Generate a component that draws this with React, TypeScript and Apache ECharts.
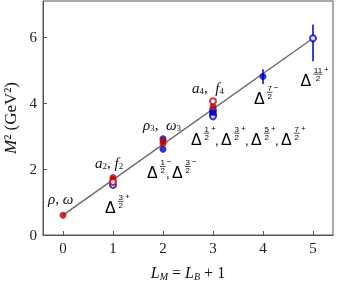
import React, { useEffect, useRef } from "react";
import * as echarts from "echarts";

const xTicks = [0, 1, 2, 3, 4, 5];
const yTicks = [0, 2, 4, 6];
const redFilled = [[0, 0.6], [1, 1.74], [1, 1.68], [2, 2.85], [2, 2.77], [3, 3.9]];
const redOpen = [[1, 1.61], [3, 4.06]];
const blueFilled = [[2, 2.92], [2, 2.6], [3, 3.72], [4, 4.81]];
const blueOpen = [[1, 1.52], [3, 3.79], [3, 3.66], [3, 3.6], [5, 5.97]];
const fitLine = [[0, 0.6], [5, 5.97]];
const errorBars = [[4, 4.58, 5.03], [5, 5.27, 6.39]];

const mesonLabels = [
  { at: [-0.3, 1.09], text: "{i|ρ}{n|, }{i|ω}" },
  { at: [0.64, 2.19], text: "{i|a}{s|2}{n|, }{i|f}{s|2}" },
  { at: [1.6, 3.34], text: "{i|ρ}{s|3}{n|,  }{i|ω}{s|3}" },
  { at: [2.58, 4.47], text: "{i|a}{s|4}{n|,  }{i|f}{s|4}" },
];

const deltaLabels = [
  { at: [0.84, 0.7], parts: [["3", "+"]], step: 31 },
  { at: [1.68, 1.76], parts: [["1", "−"], ["3", "−"]], step: 25 },
  { at: [2.56, 2.77], parts: [["1", "+"], ["3", "+"], ["5", "+"], ["7", "+"]], step: 30 },
  { at: [3.82, 4.01], parts: [["7", "−"]], step: 31 },
  { at: [4.75, 4.56], parts: [["11", "+"]], step: 31 },
];

const RED = "#c00000";
const BLUE = "#0000c8";
const SERIF = "Liberation Serif";
const SANS = "Liberation Sans";

function deltaGroup(px: number, py: number, num: string, sign: string) {
  const fw = num.length > 1 ? 8 : 4.5;
  const fx = 13.5;
  return {
    type: "group",
    x: px,
    y: py,
    children: [
      { type: "text", x: 0, y: 3.5, style: { text: "Δ", fontFamily: SANS, fontSize: 16, fill: "#000", align: "left", verticalAlign: "bottom" } },
      { type: "text", x: fx + fw / 2, y: -10.5, style: { text: num, fontFamily: SANS, fontSize: 8, fill: "#000", align: "center", verticalAlign: "bottom" } },
      { type: "line", shape: { x1: fx - 0.5, y1: -10.5, x2: fx + fw + 0.5, y2: -10.5 }, style: { stroke: "#000", lineWidth: 0.7 } },
      { type: "text", x: fx + fw / 2, y: -10, style: { text: "2", fontFamily: SANS, fontSize: 8, fill: "#000", align: "center", verticalAlign: "top" } },
      { type: "text", x: fx + fw + 2, y: -11, style: { text: sign, fontFamily: SANS, fontSize: 8, fill: "#000", align: "left", verticalAlign: "bottom" } },
    ],
  };
}

export default function App() {
  const ref = useRef<HTMLDivElement>(null);
  useEffect(() => {
    if (!ref.current) return;
    const chart = echarts.init(ref.current, null, { renderer: "svg" });
    const axisText = { fontFamily: SERIF, fontSize: 15, color: "#222" };
    chart.setOption({
      animation: false,
      grid: { left: 43, right: 5, top: 1, bottom: 49, show: true, borderColor: "#555", borderWidth: 1, outerBoundsMode: "none", containLabel: false },
      xAxis: {
        type: "value",
        min: -0.4,
        max: 5.4,
        name: "{i|L}{s|M}{n| = }{i|L}{s|B}{n| + 1}",
        nameLocation: "middle",
        nameGap: 28,
        nameTextStyle: {
          rich: {
            i: { fontFamily: SERIF, fontStyle: "italic", fontSize: 16, color: "#111", lineHeight: 18, verticalAlign: "middle" },
            s: { fontFamily: SERIF, fontStyle: "italic", fontSize: 10, color: "#111", verticalAlign: "bottom" },
            n: { fontFamily: SERIF, fontSize: 16, color: "#111", lineHeight: 18, verticalAlign: "middle" },
          },
        },
        axisLine: { show: true, onZero: false, lineStyle: { color: "#555" } },
        axisTick: { show: true, inside: true, length: 4, customValues: xTicks, lineStyle: { color: "#555" } },
        axisLabel: { ...axisText, margin: 5, customValues: xTicks },
        splitLine: { show: false },
      },
      yAxis: {
        type: "value",
        min: 0,
        max: 7.1,
        name: "{i|M}{n|² (GeV²)}",
        nameLocation: "middle",
        nameRotate: 90,
        nameGap: 23,
        nameTextStyle: {
          rich: {
            i: { fontFamily: SERIF, fontStyle: "italic", fontSize: 17, color: "#111" },
            n: { fontFamily: SERIF, fontSize: 17, color: "#111" },
          },
        },
        axisLine: { show: true, onZero: false, lineStyle: { color: "#555" } },
        axisTick: { show: true, inside: true, length: 4, customValues: yTicks, lineStyle: { color: "#555" } },
        axisLabel: { ...axisText, margin: 6, customValues: yTicks },
        splitLine: { show: false },
      },
      series: [
        {
          type: "line",
          data: fitLine,
          showSymbol: false,
          silent: true,
          lineStyle: { color: "#6a6a6a", width: 1.5 },
          z: 1,
        },
        {
          type: "custom",
          data: errorBars,
          encode: { x: 0, y: [1, 2] },
          z: 2,
          renderItem: (params: any, api: any) => {
            const lo = api.coord([api.value(0), api.value(1)]);
            const hi = api.coord([api.value(0), api.value(2)]);
            return {
              type: "line",
              shape: { x1: lo[0], y1: lo[1], x2: hi[0], y2: hi[1] },
              style: { stroke: BLUE, lineWidth: 1.5 },
            };
          },
        },
        { type: "scatter", data: blueOpen, symbol: "emptyCircle", symbolSize: 6, itemStyle: { color: BLUE, borderWidth: 1.5 }, z: 3 },
        { type: "scatter", data: blueFilled, symbol: "circle", symbolSize: 7, itemStyle: { color: BLUE }, z: 3 },
        { type: "scatter", data: redFilled, symbol: "circle", symbolSize: 7, itemStyle: { color: RED }, z: 3 },
        { type: "scatter", data: redOpen, symbol: "emptyCircle", symbolSize: 6, itemStyle: { color: RED, borderWidth: 1.5 }, z: 3 },
      ],
    });

    const graphics: any[] = [];
    const richMeson = {
      i: { fontFamily: SERIF, fontStyle: "italic", fontSize: 15, fill: "#111", lineHeight: 16, verticalAlign: "middle" },
      s: { fontFamily: SERIF, fontSize: 9, fill: "#111", verticalAlign: "bottom" },
      n: { fontFamily: SERIF, fontSize: 15, fill: "#111", lineHeight: 16, verticalAlign: "middle" },
    };
    mesonLabels.forEach((m) => {
      const p = chart.convertToPixel({ gridIndex: 0 }, m.at) as number[];
      graphics.push({
        type: "text",
        x: p[0],
        y: p[1],
        style: { text: m.text, rich: richMeson, align: "left", verticalAlign: "middle" },
      });
    });
    deltaLabels.forEach((d) => {
      const p = chart.convertToPixel({ gridIndex: 0 }, d.at) as number[];
      d.parts.forEach((part, k) => {
        graphics.push(deltaGroup(p[0] + k * d.step, p[1], part[0], part[1]));
        if (k < d.parts.length - 1) {
          graphics.push({
            type: "text",
            x: p[0] + (k + 1) * d.step - 6,
            y: p[1] + 3,
            style: { text: ",", fontFamily: SANS, fontSize: 13, fill: "#000", align: "left", verticalAlign: "bottom" },
          });
        }
      });
    });
    chart.setOption({ graphic: graphics });

    return () => chart.dispose();
  }, []);
  return <div ref={ref} style={{ position: "fixed", left: 0, top: 0, width: 338, height: 284 }} />;
}
